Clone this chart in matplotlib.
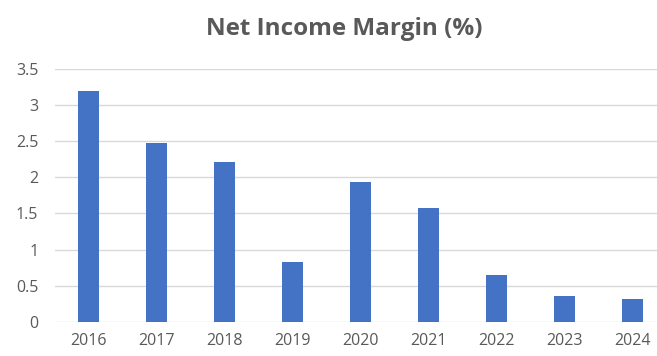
import matplotlib.pyplot as plt

# Net income margin by year
years = ["2016", "2017", "2018", "2019", "2020", "2021", "2022", "2023", "2024"]
margin = [3.20, 2.47, 2.21, 0.82, 1.93, 1.58, 0.64, 0.36, 0.32]
y_ticks = [0, 0.5, 1, 1.5, 2, 2.5, 3, 3.5]
y_labels = ["0", "0.5", "1", "1.5", "2", "2.5", "3", "3.5"]

plt.rcParams['font.family'] = ['Open Sans', 'DejaVu Sans']

fig = plt.figure(figsize=(6.57, 3.56), dpi=100)
ax = fig.add_axes([0.0837, 0.0963, 0.930, 0.710])

ax.bar(range(len(years)), margin, width=0.31, color="#4472C4", zorder=3)

ax.set_xlim(-0.5, len(years) - 0.5)
ax.set_ylim(0, 3.5)
ax.set_xticks(range(len(years)))
ax.set_xticklabels(years)
ax.set_yticks(y_ticks)
ax.set_yticklabels(y_labels)

# Light horizontal gridlines, no frame
ax.grid(axis="y", color="#d9d9d9", linewidth=1, zorder=0)
for side in ["top", "right", "left", "bottom"]:
    ax.spines[side].set_visible(False)
ax.tick_params(axis="both", length=0, labelsize=11.5, colors="#595959")
ax.tick_params(axis="x", pad=8)
ax.tick_params(axis="y", pad=12)

fig.text(0.524, 0.918, "Net Income Margin (%)", ha="center", va="center",
         fontsize=17.5, fontweight="bold", color="#595959")

fig.savefig("out.png", dpi=100)
